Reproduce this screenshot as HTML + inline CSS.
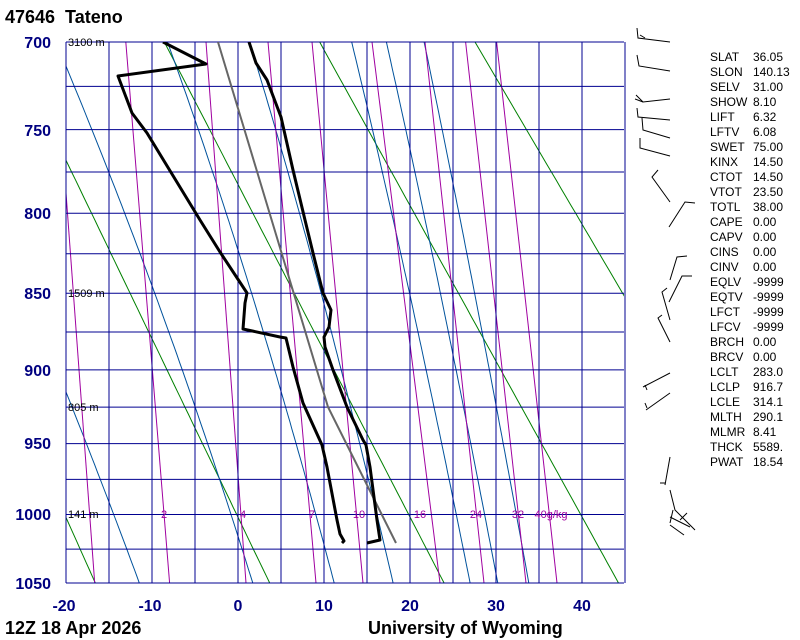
<!DOCTYPE html>
<html><head><meta charset="utf-8"><style>
html,body{margin:0;padding:0;background:#fff;}
svg{display:block;}
</style></head><body>
<svg id="s" width="800" height="640" xmlns="http://www.w3.org/2000/svg" font-family="Liberation Sans, sans-serif">
<defs><clipPath id="c"><rect x="66" y="42" width="558" height="541"/></clipPath></defs>
<g id="bg" clip-path="url(#c)"></g>
<g id="grid"></g>
<g clip-path="url(#c)">
<polyline fill="none" stroke="#666" stroke-width="2" points="218,42 328,407 396,543"/>
<polyline fill="none" stroke="#000" stroke-width="3" stroke-linejoin="round" points="249,42 256,63 267,80 281,117 293,170 305,220 313,253 323,293 331,310 329,327 324,337 325,347 333,370 347,407 363,440 366,445 370,467 377,520 380,540 367,543"/>
<polyline fill="none" stroke="#000" stroke-width="3" stroke-linejoin="round" points="163,42 206,64 118,76 132,113 147,133 200,220 220,252 247,293 245,303 243,329 280,337 286,338 293,367 303,403 322,445 327,467 337,520 340,534 344,541 342,543"/>
</g>
<g font-size="11" fill="#000">
<text x="68" y="46">3100 m</text>
<text x="68" y="297">1509 m</text>
<text x="68" y="411">805 m</text>
<text x="68" y="518">141 m</text>
</g>
<g font-size="11" fill="#a000a0" text-anchor="middle">
<text x="164" y="518">2</text><text x="243" y="518">4</text><text x="312" y="518">7</text><text x="359" y="518">10</text><text x="420" y="518">16</text><text x="476" y="518">24</text><text x="518" y="518">32</text><text x="551" y="518">40g/kg</text>
</g>
<g font-size="16" font-weight="bold" fill="#000080" text-anchor="end">
<text x="51" y="48">700</text><text x="51" y="136">750</text><text x="51" y="219">800</text><text x="51" y="299">850</text><text x="51" y="376">900</text><text x="51" y="449">950</text><text x="51" y="520">1000</text><text x="51" y="589">1050</text>
</g>
<g font-size="16" font-weight="bold" fill="#000080" text-anchor="middle">
<text x="64" y="611">-20</text><text x="150" y="611">-10</text><text x="238" y="611">0</text><text x="324" y="611">10</text><text x="410" y="611">20</text><text x="496" y="611">30</text><text x="582" y="611">40</text>
</g>
<g font-size="18" font-weight="bold" fill="#000">
<text x="5" y="23">47646&#160; Tateno</text>
<text x="5" y="634">12Z 18 Apr 2026</text>
<text x="368" y="634">University of Wyoming</text>
</g>
<g id="stats" font-size="12" fill="#000"></g>
<g fill="none" stroke="#000" stroke-width="1">
<polyline points="637,28 638,38 670,42"/><line x1="640" y1="35" x2="645" y2="38"/>
<polyline points="637,55 639,66 670,71"/>
<polyline points="636,95 643,102 670,99"/><line x1="635" y1="99" x2="643" y2="102"/>
<polyline points="637,108 638,117 670,120"/>
<polyline points="642,118 643,130 670,138"/>
<polyline points="640,138 640,148 670,156"/>
<polyline points="658,170 652,177 670,202"/>
<polyline points="669,227 685,202 695,203"/>
<polyline points="670,280 677,257 687,256"/>
<polyline points="669,302 682,276 692,276"/>
<polyline points="670,320 662,292 667,288"/>
<polyline points="670,342 658,318 662,315"/>
<polyline points="670,373 643,387"/><line x1="645" y1="385" x2="647" y2="390"/>
<polyline points="670,393 646,410"/><line x1="647" y1="408" x2="645" y2="403"/>
<polyline points="670,457 665,485"/><line x1="665" y1="483" x2="660" y2="483"/>
<polyline points="670,490 675,510 695,530"/>
<polyline points="673,510 670,523"/>
<polyline points="680,520 687,513"/>
<polyline points="670,517 690,527"/>
<polyline points="670,525 684,535"/>
</g>
</svg>
<script>
(function(){
var NS="http://www.w3.org/2000/svg";
var K=0.286, a=Math.pow(700,K), b=Math.pow(1050,K);
function Y(p){return 42+541*(Math.pow(p,K)-a)/(b-a);}
function X(t){return 238+8.6*t;}
var bg=document.getElementById('bg'), grid=document.getElementById('grid');
function el(par,tag,at){var e=document.createElementNS(NS,tag);for(var k in at)e.setAttribute(k,at[k]);par.appendChild(e);return e;}
[253,273,293,313,333,353].forEach(function(th){
 var pts=[];for(var p=680;p<=1060;p+=5){var T=th*Math.pow(p/1000,K)-273.15;pts.push(X(T).toFixed(1)+","+Y(p).toFixed(1));}
 el(bg,'polyline',{points:pts.join(' '),fill:'none',stroke:'#008000','stroke-width':1});
});
function dTdp(T,p){var es=6.112*Math.exp(17.67*(T-273.15)/(T-29.65));var rs=0.622*es/(p-es);
 var num=287*T+2.5e6*rs;var den=1004+2.5e6*2.5e6*rs*0.622/(287*T*T);return num/den/p;}
[-10.9,2.2,11.6,18.4,27.3,30.5,34.1].forEach(function(t0){
 var T=t0+273.15,pts=[];
 for(var p=1060;p>=680;p-=1){ if(p%5==0)pts.push(X(T-273.15).toFixed(1)+","+Y(p).toFixed(1)); T-=dTdp(T,p)*1;}
 el(bg,'polyline',{points:pts.join(' '),fill:'none',stroke:'#00529c','stroke-width':1});
});
[[66,193,94.7,583],[125.8,42,169.6,583],[206,42,246,583],[268,42,316,583],[312,42,363,583],[372,42,440,583],[425,42,484,583],[465.6,42,526,583],[496.6,42,557,583]].forEach(function(m){
 el(bg,'line',{x1:m[0],y1:m[1],x2:m[2],y2:m[3],stroke:'#a000a0','stroke-width':1});
});
for(var t=-20;t<=45;t+=5){var x=X(t);el(grid,'line',{x1:x,y1:42,x2:x,y2:583,stroke:'#000090','stroke-width':1});}
for(var p=700;p<=1050;p+=25){var y=Y(p);el(grid,'line',{x1:66,y1:y,x2:624,y2:y,stroke:'#000090','stroke-width':1});}
var st=[["SLAT","36.05"],["SLON","140.13"],["SELV","31.00"],["SHOW","8.10"],["LIFT","6.32"],["LFTV","6.08"],["SWET","75.00"],["KINX","14.50"],["CTOT","14.50"],["VTOT","23.50"],["TOTL","38.00"],["CAPE","0.00"],["CAPV","0.00"],["CINS","0.00"],["CINV","0.00"],["EQLV","-9999"],["EQTV","-9999"],["LFCT","-9999"],["LFCV","-9999"],["BRCH","0.00"],["BRCV","0.00"],["LCLT","283.0"],["LCLP","916.7"],["LCLE","314.1"],["MLTH","290.1"],["MLMR","8.41"],["THCK","5589."],["PWAT","18.54"]];
var sg=document.getElementById('stats');
st.forEach(function(s,i){var y=61+i*15;el(sg,'text',{x:710,y:y}).textContent=s[0];el(sg,'text',{x:753,y:y}).textContent=s[1];});
})();
</script>
</body></html>
